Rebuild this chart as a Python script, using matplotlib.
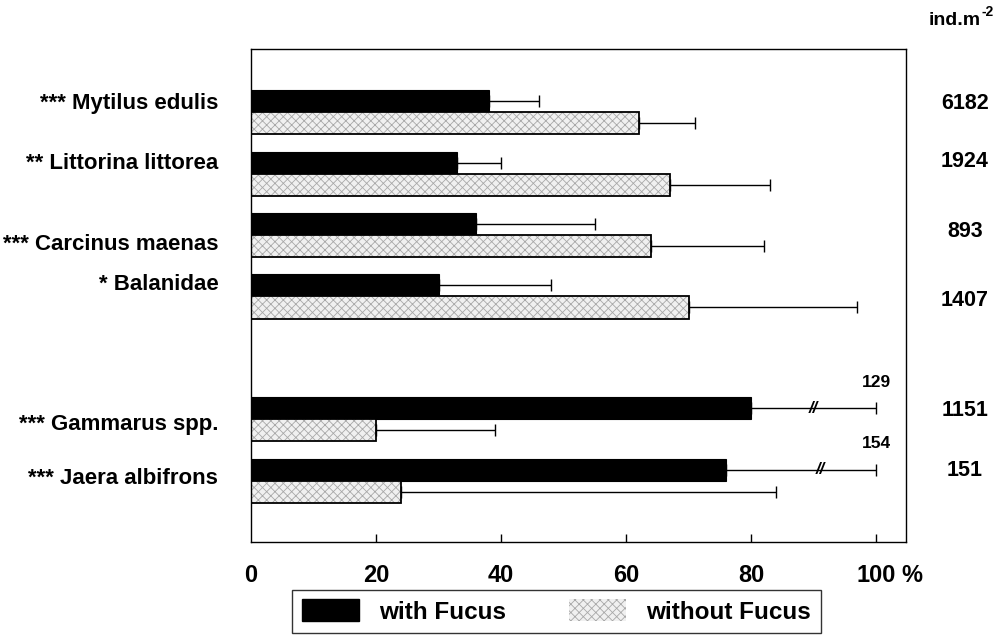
import numpy as np
import matplotlib
matplotlib.use('Agg')
import matplotlib.pyplot as plt
from matplotlib.patches import Patch
from matplotlib.transforms import blended_transform_factory

plt.rcParams['font.family'] = ['Liberation Sans', 'DejaVu Sans']
plt.rcParams['font.weight'] = 'bold'
plt.rcParams['hatch.linewidth'] = 0.6

# datos
especies = ['*** Mytilus edulis', '** Littorina littorea', '*** Carcinus maenas',
            '* Balanidae', '*** Gammarus spp.', '*** Jaera albifrons']
densidad = ['6182', '1924', '893', '1407', '1151', '151']
con_fucus = [38, 33, 36, 30, 80, 76]
sin_fucus = [62, 67, 64, 70, 20, 24]
con_sd = [8, 7, 19, 18, 49, 78]
sin_sd = [9, 16, 18, 27, 19, 60]
ranuras = [0, 1, 2, 3, 5, 6]
ticks = [0, 20, 40, 60, 80, 100]

# posiciones de las etiquetas (como en el original escaneado)
y_etiqueta = [-0.15, 0.83, 2.15, 2.81, 5.09, 5.96]
y_densidad = [-0.15, 0.81, 1.95, 3.06, 4.85, 5.83]

fig = plt.figure(figsize=(9.97, 6.4), dpi=100)
ax = fig.add_axes([0.2518, 0.1531, 0.657, 0.7703])

y = np.array(ranuras, dtype=float)
h = 0.36
con = np.array(con_fucus, dtype=float)
sin = np.array(sin_fucus, dtype=float)
con_fin = con + np.array(con_sd)
con_err = np.minimum(con_fin, 100) - con
sin_err = np.array(sin_sd, dtype=float)

gris = '#f0f0f0'
trama = '#a8a8a8'

# barras negras (con Fucus)
ax.barh(y - h / 2, con, height=h, color='black', edgecolor='black', linewidth=0.8)
# barras punteadas (sin Fucus)
ax.barh(y + h / 2, sin, height=h, color=gris, hatch='xxxx',
        edgecolor=trama, linewidth=0)
ax.barh(y + h / 2, sin, height=h, fill=False, edgecolor='black', linewidth=1.3)

ax.errorbar(con, y - h / 2, xerr=[np.zeros_like(con), con_err], fmt='none',
            ecolor='black', elinewidth=1, capsize=4, capthick=1)
ax.errorbar(sin, y + h / 2, xerr=[np.zeros_like(sin), sin_err], fmt='none',
            ecolor='black', elinewidth=1, capsize=4, capthick=1)

# cortes para los errores fuera de escala
for i in range(len(con)):
    if con_fin[i] > 100:
        xc = 90 if i == 4 else 91
        ax.text(xc, y[i] - h / 2, '//', ha='center', va='center', fontsize=12,
                style='italic', fontweight='bold')
        ax.text(100, y[i] - h / 2 - 0.42, str(int(con_fin[i])), ha='center',
                va='center', fontsize=12.5, fontweight='bold')

ax.set_xlim(0, 104.8)
ax.set_ylim(7.0, -1.03)
ax.set_yticks([])
ax.set_xticks(ticks[1:])
ax.set_xticklabels([])
ax.tick_params(axis='x', direction='in', length=6, width=1)
for s in ax.spines.values():
    s.set_linewidth(1)

trans = blended_transform_factory(ax.transData, ax.transAxes)
for t in ticks:
    ax.text(t, -0.045, str(t), transform=trans, ha='center', va='top',
            fontsize=17, fontweight='bold')
ax.text(104, -0.045, '%', transform=trans, ha='left', va='top',
        fontsize=17, fontweight='bold')

trans_y = blended_transform_factory(ax.transAxes, ax.transData)
for nombre, yy in zip(especies, y_etiqueta):
    ax.text(-0.05, yy, nombre, transform=trans_y, ha='right', va='center',
            fontsize=16, fontweight='bold')
for d, yy in zip(densidad, y_densidad):
    ax.text(1.09, yy, d, transform=trans_y, ha='center', va='center',
            fontsize=15.5, fontweight='bold')

# unidad arriba a la derecha
fig.text(0.9835, 0.968, 'ind.m', ha='right', va='center', fontsize=14, fontweight='bold')
fig.text(0.9845, 0.981, '-2', ha='left', va='center', fontsize=10, fontweight='bold')

manejadores = [Patch(facecolor='black', edgecolor='black'),
               Patch(facecolor=gris, hatch='xxxx', edgecolor=trama, linewidth=0)]
leg = fig.legend(manejadores, ['with Fucus', 'without Fucus'], ncol=2,
                 loc='upper left', bbox_to_anchor=(0.293, 0.0785),
                 bbox_transform=fig.transFigure, fontsize=17.5, frameon=True,
                 fancybox=False, handlelength=2.35, handleheight=1.0,
                 handletextpad=0.82, columnspacing=2.6, borderpad=0.4,
                 borderaxespad=0)
leg.get_frame().set_edgecolor('black')
leg.get_frame().set_linewidth(1)

plt.savefig('out.png', dpi=100)
